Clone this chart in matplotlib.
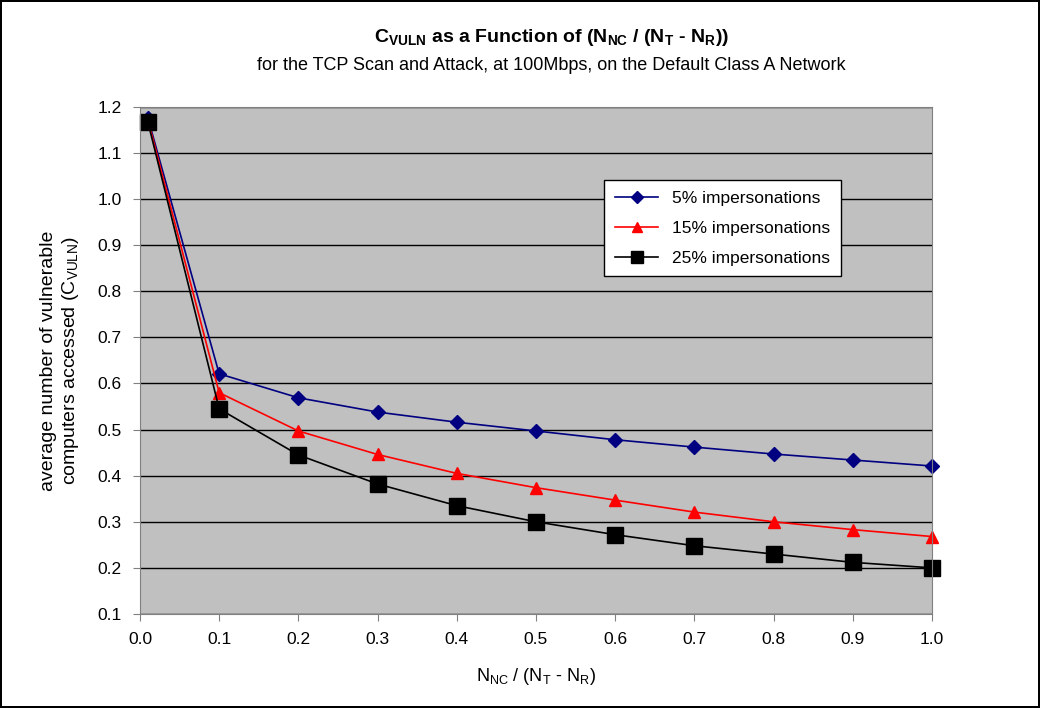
# Import libs
import numpy as np
import matplotlib
matplotlib.use('Agg')
import matplotlib.pyplot as plt

# data
x_vals = [0.01, 0.1, 0.2, 0.3, 0.4, 0.5, 0.6, 0.7, 0.8, 0.9, 1.0]
imp_5 = [1.176, 0.621, 0.569, 0.538, 0.516, 0.497, 0.478, 0.462, 0.447, 0.434, 0.421]
imp_15 = [1.172, 0.580, 0.497, 0.446, 0.405, 0.374, 0.347, 0.321, 0.300, 0.283, 0.268]
imp_25 = [1.167, 0.545, 0.445, 0.382, 0.335, 0.300, 0.272, 0.248, 0.230, 0.212, 0.200]
series_labels = ['5% impersonations', '15% impersonations', '25% impersonations']
x_ticks = [0.0, 0.1, 0.2, 0.3, 0.4, 0.5, 0.6, 0.7, 0.8, 0.9, 1.0]
y_ticks = [0.1, 0.2, 0.3, 0.4, 0.5, 0.6, 0.7, 0.8, 0.9, 1.0, 1.1, 1.2]

plt.rcParams['font.family'] = ['Liberation Sans', 'DejaVu Sans']
plt.rcParams['mathtext.fontset'] = 'custom'
plt.rcParams['mathtext.rm'] = 'Liberation Sans'
plt.rcParams['mathtext.it'] = 'Liberation Sans'
plt.rcParams['mathtext.bf'] = 'Liberation Sans:bold'

fig = plt.figure(figsize=(10.4, 7.08), dpi=100)
fig.patch.set_edgecolor('black')
fig.patch.set_linewidth(1.5)
ax = fig.add_axes([0.1346, 0.1328, 0.7615, 0.7162])
ax.set_facecolor('#C0C0C0')

ax.plot(x_vals, imp_5, color='#000080', marker='D', markersize=7, lw=1.2, label=series_labels[0], clip_on=False)
ax.plot(x_vals, imp_15, color='#FF0000', marker='^', markersize=9, lw=1.2, label=series_labels[1], clip_on=False)
ax.plot(x_vals, imp_25, color='black', marker='s', markersize=11, lw=1.2, label=series_labels[2], clip_on=False)

ax.set_xlim(0, 1.0)
ax.set_ylim(0.1, 1.2)
ax.set_xticks(x_ticks)
ax.set_xticklabels(['%.1f' % v for v in x_ticks])
ax.set_yticks(y_ticks)
ax.set_yticklabels(['%.1f' % v for v in y_ticks])
ax.tick_params(labelsize=12.5, direction='out', length=5, color='#808080', pad=8)
ax.yaxis.grid(True, color='black', lw=1)
ax.set_axisbelow(True)
for s in ax.spines.values():
    s.set_color('#808080')

ax.set_xlabel(r'N$_{\mathrm{NC}}$ / (N$_{\mathrm{T}}$ - N$_{\mathrm{R}}$)', fontsize=13, labelpad=14)
ax.set_ylabel('average number of vulnerable\n' + r'computers accessed (C$_{\mathrm{VULN}}$)', fontsize=14, labelpad=12)

fig.text(0.53, 0.947, r'C$_\mathbf{VULN}$ as a Function of (N$_\mathbf{NC}$ / (N$_\mathbf{T}$ - N$_\mathbf{R}$))',
         ha='center', va='center', fontsize=14, fontweight='bold')
fig.text(0.53, 0.907, 'for the TCP Scan and Attack, at 100Mbps, on the Default Class A Network',
         ha='center', va='center', fontsize=13)

leg = ax.legend(loc='upper left', bbox_to_anchor=(0.5755, 0.872), fontsize=12.5, frameon=True,
                fancybox=False, edgecolor='black', framealpha=1, handlelength=2.5,
                borderpad=0.6, labelspacing=0.85, markerscale=0.85)
leg.get_frame().set_linewidth(1)

fig.savefig('out.png', dpi=100, edgecolor=fig.get_edgecolor())
